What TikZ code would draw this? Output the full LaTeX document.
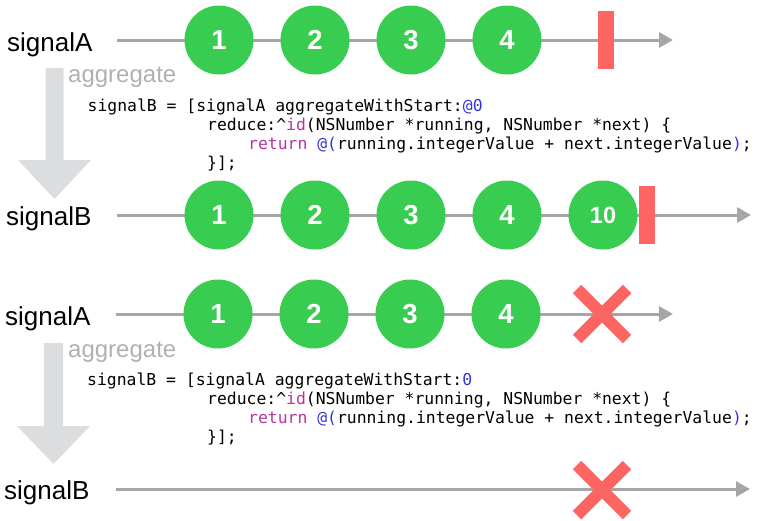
\documentclass[tikz,border=0pt]{standalone}
\usepackage{fontspec}
\setmainfont{Liberation Sans}
\newfontfamily\codefont{DejaVu Sans Mono}
\usetikzlibrary{arrows.meta}

\definecolor{evgreen}{RGB}{56,204,80}
\definecolor{evred}{RGB}{252,101,97}
\definecolor{axisgray}{RGB}{166,166,166}
\definecolor{opgray}{RGB}{220,221,223}
\definecolor{optext}{RGB}{176,176,176}
\definecolor{kwpink}{RGB}{184,51,161}
\definecolor{litblue}{RGB}{52,52,220}

\tikzset{
  timeline/.style={draw=axisgray, line width=3pt, -{Triangle[length=14pt,width=15pt]}},
  event/.style={circle, fill=evgreen, minimum size=69pt, inner sep=0pt,
    text=white, font=\fontsize{27.5}{27.5}\selectfont\bfseries},
  bigevent/.style={event, font=\fontsize{23.5}{23.5}\selectfont\bfseries},
  siglabel/.style={anchor=base west, inner sep=0pt, font=\fontsize{26}{26}\selectfont},
  oplabel/.style={anchor=base west, inner sep=0pt, text=optext, font=\fontsize{24}{24}\selectfont},
  codeline/.style={anchor=base west, inner sep=0pt, font=\codefont\fontsize{16.4}{19.5}\selectfont},
  donebar/.style={rectangle, fill=evred, minimum width=16pt, minimum height=58pt, inner sep=0pt},
  errmark/.style={draw=evred, line width=12pt},
  opflow/.style={fill=opgray},
}

\newcommand{\kw}[1]{\textcolor{kwpink}{#1}}
\newcommand{\lit}[1]{\textcolor{litblue}{#1}}

\begin{document}
\begin{tikzpicture}[x=1pt, y=-1pt]
\useasboundingbox (0,0) rectangle (760,520);

% ---------- first example: completion ----------
\node[siglabel] (lA1) at (7,51) {signalA};
\coordinate (sA1) at (117,40);
\coordinate (eA1) at (673,40);
\draw[timeline] (sA1) -- (eA1);
\node[event] (a1) at (219,40) {1};
\node[event] (a2) at (315,40) {2};
\node[event] (a3) at (411,40) {3};
\node[event] (a4) at (507,40) {4};
\node[donebar] (aDone) at (606,39.5) {};

\fill[opflow] (45.5,68) -- (63.5,68) -- (63.5,160) -- (91,160) -- (54.5,199)
  -- (18,160) -- (45.5,160) -- cycle;
\node[oplabel] (op1) at (68,82) {aggregate};

\node[codeline] (c1a) at (87.5,111.5) {signalB = [signalA aggregateWithStart:\lit{@0}};
\node[codeline] (c1b) at (207,130.5) {reduce:\textasciicircum\kw{id}(NSNumber *running, NSNumber *next) \{};
\node[codeline] (c1c) at (248,149.5) {\kw{return} \lit{@(}running.integerValue + next.integerValue\lit{)};};
\node[codeline] (c1d) at (207,168.5) {\}];};

\node[siglabel] (lB1) at (6,225) {signalB};
\coordinate (sB1) at (117,215);
\coordinate (eB1) at (751,215);
\draw[timeline] (sB1) -- (eB1);
\node[event] (b1) at (219,215) {1};
\node[event] (b2) at (315,215) {2};
\node[event] (b3) at (411,215) {3};
\node[event] (b4) at (507,215) {4};
\node[bigevent] (b5) at (603,215) {10};
\node[donebar] (bDone) at (647,214.5) {};

% ---------- second example: error ----------
\node[siglabel] (lA2) at (5,325) {signalA};
\coordinate (sA2) at (116,314);
\coordinate (eA2) at (673,314);
\draw[timeline] (sA2) -- (eA2);
\node[event] (x1) at (218,314) {1};
\node[event] (x2) at (314,314) {2};
\node[event] (x3) at (410,314) {3};
\node[event] (x4) at (506,314) {4};
\coordinate (xErr) at (602,314);
\draw[errmark] ([shift={(-25,-25)}]xErr) -- ([shift={(25,25)}]xErr);
\draw[errmark] ([shift={(-25,25)}]xErr) -- ([shift={(25,-25)}]xErr);

\fill[opflow] (44,343) -- (63,343) -- (63,426) -- (90,426) -- (53.5,464)
  -- (17,426) -- (44,426) -- cycle;
\node[oplabel] (op2) at (68,357) {aggregate};

\node[codeline] (c2a) at (87,385) {signalB = [signalA aggregateWithStart:\lit{0}};
\node[codeline] (c2b) at (207,404.5) {reduce:\textasciicircum\kw{id}(NSNumber *running, NSNumber *next) \{};
\node[codeline] (c2c) at (248,423.5) {\kw{return} \lit{@(}running.integerValue + next.integerValue\lit{)};};
\node[codeline] (c2d) at (207,442.5) {\}];};

\node[siglabel] (lB2) at (4,499) {signalB};
\coordinate (sB2) at (116,489);
\coordinate (eB2) at (750,489);
\draw[timeline] (sB2) -- (eB2);
\coordinate (yErr) at (602,490);
\draw[errmark] ([shift={(-25,-25)}]yErr) -- ([shift={(25,25)}]yErr);
\draw[errmark] ([shift={(-25,25)}]yErr) -- ([shift={(25,-25)}]yErr);

\end{tikzpicture}
\end{document}
